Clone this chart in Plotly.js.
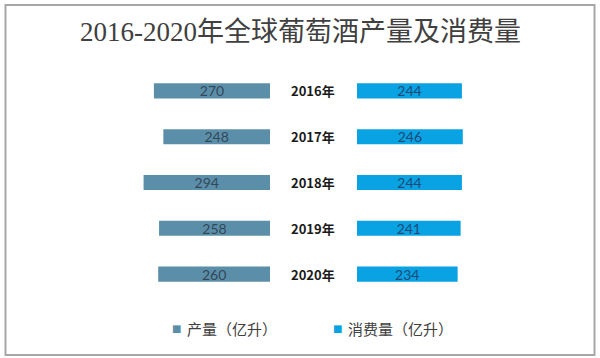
<!DOCTYPE html>
<html><head><meta charset="utf-8">
<script src="https://cdn.plot.ly/plotly-3.0.1.min.js"></script>
<style>html,body{margin:0;padding:0;background:#fff;}#chart{width:600px;height:358px;}</style>
</head><body><div id="chart"></div>
<script>
const years = ['2016年','2017年','2018年','2019年','2020年'];
const production = [270, 248, 294, 258, 260];
const consumption = [244, 246, 244, 241, 234];
const seriesNames = ['产量（亿升）', '消费量（亿升）'];
const seriesColors = ['#5B8FA9', '#09A2E2'];
const titleText = '2016-2020年全球葡萄酒产量及消费量';

const W = 600, H = 358;
const plotTop = 68, plotBottom = 297;
const pxPerUnit = 0.43;
const leftZero = 270, rightZero = 357;
const leftStart = 120, rightEnd = 500;
const py = p => (plotBottom - p) / (plotBottom - plotTop);

const traces = [
  {type:'bar', orientation:'h', name:seriesNames[0], y:years, x:production,
   xaxis:'x', yaxis:'y', width:0.33, showlegend:false,
   marker:{color:seriesColors[0], line:{width:0}},
   text:production.map(String), textposition:'inside', insidetextanchor:'middle',
   constraintext:'none', cliponaxis:false,
   textfont:{family:'Lato, "Open Sans", sans-serif', size:14, color:'#33475a'},
   hoverinfo:'skip'},
  {type:'bar', orientation:'h', name:seriesNames[1], y:years, x:consumption,
   xaxis:'x2', yaxis:'y', width:0.33, showlegend:false,
   marker:{color:seriesColors[1], line:{width:0}},
   text:consumption.map(String), textposition:'inside', insidetextanchor:'middle',
   constraintext:'none', cliponaxis:false,
   textfont:{family:'Lato, "Open Sans", sans-serif', size:14, color:'#1e4a78'},
   hoverinfo:'skip'}
];

const annotations = years.map(y => ({
  xref:'paper', yref:'y', x:313/W, y:y, text:y, showarrow:false,
  xanchor:'center', yanchor:'middle',
  font:{family:'"Noto Sans CJK SC", sans-serif', size:13, color:'#1a1a1a', weight:700}
}));
annotations.push({
  xref:'paper', yref:'paper', x:0.5, y:py(32), text:titleText, showarrow:false,
  xanchor:'center', yanchor:'middle',
  font:{family:'"Liberation Serif", "Noto Sans CJK SC", serif', size:27, color:'#404040'}
});
// legend (drawn as text entries)
const legendPos = [[176.5, 185], [337.5, 346]];
seriesNames.forEach((nm, i) => {
  annotations.push({xref:'paper', yref:'paper', x:legendPos[i][0]/W, y:py(328), text:'■',
    showarrow:false, xanchor:'center', yanchor:'middle',
    font:{family:'"DejaVu Sans", sans-serif', size:10, color:seriesColors[i]}});
  annotations.push({xref:'paper', yref:'paper', x:legendPos[i][1]/W, y:py(328), text:nm,
    showarrow:false, xanchor:'left', yanchor:'middle',
    font:{family:'"Noto Sans CJK SC", sans-serif', size:15, color:'#404040'}});
});

const layout = {
  width:W, height:H,
  margin:{l:0, r:0, t:plotTop, b:H-plotBottom, pad:0},
  paper_bgcolor:'#ffffff', plot_bgcolor:'rgba(0,0,0,0)',
  showlegend:false,
  xaxis:{domain:[leftStart/W, leftZero/W], range:[(leftZero-leftStart)/pxPerUnit, 0],
    visible:false, fixedrange:true},
  xaxis2:{domain:[rightZero/W, rightEnd/W], range:[0, (rightEnd-rightZero)/pxPerUnit],
    visible:false, fixedrange:true},
  yaxis:{type:'category', categoryorder:'array', categoryarray:years,
    range:[4.5, -0.5], visible:false, fixedrange:true},
  annotations:annotations,
  shapes:[{type:'rect', xref:'paper', yref:'paper',
    x0:5.5/W, x1:594.5/W, y0:py(355), y1:py(5),
    line:{color:'#a6a6a6', width:2}, fillcolor:'rgba(0,0,0,0)', layer:'below'}]
};

Plotly.newPlot('chart', traces, layout, {displayModeBar:false, staticPlot:true});
</script></body></html>
